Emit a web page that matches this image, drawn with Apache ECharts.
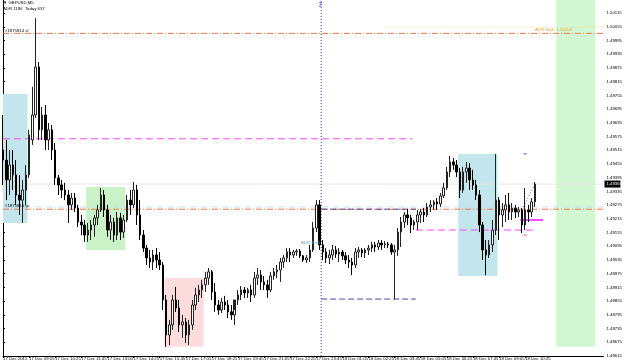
<!DOCTYPE html>
<html>
<head>
<meta charset="utf-8">
<script src="https://cdn.jsdelivr.net/npm/echarts@6/dist/echarts.min.js"></script>
<style>
  html, body { margin: 0; padding: 0; background: #fff; }
  #chart { width: 625px; height: 364px; }
</style>
</head>
<body>
<div id="chart"></div>
<script>
const opens = [
  1.49516, 1.49472, 1.49385, 1.49450, 1.49407, 1.49319, 1.49297, 1.49341, 1.49407, 1.49560,
  1.49669, 1.49879, 1.49604, 1.49669, 1.49560, 1.49604, 1.49516, 1.49394, 1.49363, 1.49341,
  1.49319, 1.49276, 1.49306, 1.49262, 1.49201, 1.49188, 1.49144, 1.49166, 1.49188, 1.49219,
  1.49254, 1.49319, 1.49254, 1.49166, 1.49201, 1.49144, 1.49219, 1.49157, 1.49210, 1.49297,
  1.49276, 1.49341, 1.49232, 1.49144, 1.49087, 1.49044, 1.49026, 1.49057, 1.49035, 1.49013,
  1.48860, 1.48707, 1.48751, 1.48860, 1.48825, 1.48751, 1.48764, 1.48707, 1.48751, 1.48838,
  1.48882, 1.48904, 1.48926, 1.48956, 1.48983, 1.48895, 1.48838, 1.48816, 1.48851, 1.48838,
  1.48808, 1.48795, 1.48860, 1.48882, 1.48904, 1.48891, 1.48904, 1.48882, 1.48956, 1.48969,
  1.48939, 1.48926, 1.48904, 1.48965, 1.48983, 1.48991, 1.49026, 1.49044, 1.49070, 1.49057,
  1.49070, 1.49074, 1.49053, 1.49035, 1.49044, 1.49079, 1.49175, 1.49276, 1.49101, 1.49070,
  1.49044, 1.49057, 1.49079, 1.49061, 1.49070, 1.49053, 1.49035, 1.49026, 1.49013, 1.49070,
  1.49079, 1.49066, 1.49079, 1.49087, 1.49101, 1.49092, 1.49109, 1.49101, 1.49105, 1.49101,
  1.49070, 1.49079, 1.49157, 1.49201, 1.49232, 1.49219, 1.49188, 1.49201, 1.49232, 1.49245,
  1.49232, 1.49267, 1.49276, 1.49289, 1.49280, 1.49315, 1.49350, 1.49420, 1.49464, 1.49450,
  1.49420, 1.49341, 1.49420, 1.49437, 1.49385, 1.49363, 1.49319, 1.49188, 1.49079, 1.49057,
  1.49101, 1.49166, 1.49297, 1.49232, 1.49254, 1.49276, 1.49245, 1.49262, 1.49245, 1.49254,
  1.49188, 1.49254, 1.49245, 1.49289
];
const highs = [
  1.49669, 1.49560, 1.49516, 1.49516, 1.49472, 1.49407, 1.49385, 1.49450, 1.49604, 1.49792,
  1.50093, 1.49901, 1.49704, 1.49713, 1.49634, 1.49625, 1.49547, 1.49407, 1.49385, 1.49372,
  1.49341, 1.49328, 1.49328, 1.49276, 1.49232, 1.49210, 1.49197, 1.49210, 1.49232, 1.49276,
  1.49350, 1.49341, 1.49276, 1.49232, 1.49219, 1.49245, 1.49241, 1.49232, 1.49319, 1.49341,
  1.49376, 1.49363, 1.49297, 1.49166, 1.49101, 1.49079, 1.49079, 1.49087, 1.49070, 1.49026,
  1.48882, 1.48773, 1.48882, 1.48917, 1.48860, 1.48795, 1.48781, 1.48773, 1.48860, 1.48913,
  1.48926, 1.48948, 1.48983, 1.49000, 1.48991, 1.48934, 1.48860, 1.48869, 1.48878, 1.48860,
  1.48838, 1.48816, 1.48904, 1.48921, 1.48917, 1.48913, 1.48926, 1.48983, 1.49000, 1.48991,
  1.48965, 1.48948, 1.48983, 1.49000, 1.49013, 1.49044, 1.49057, 1.49087, 1.49087, 1.49079,
  1.49083, 1.49083, 1.49057, 1.49057, 1.49101, 1.49201, 1.49297, 1.49297, 1.49122, 1.49087,
  1.49079, 1.49101, 1.49096, 1.49087, 1.49079, 1.49070, 1.49057, 1.49044, 1.49087, 1.49092,
  1.49087, 1.49087, 1.49101, 1.49114, 1.49114, 1.49122, 1.49122, 1.49118, 1.49114, 1.49109,
  1.49101, 1.49175, 1.49223, 1.49245, 1.49258, 1.49232, 1.49210, 1.49254, 1.49258, 1.49262,
  1.49284, 1.49297, 1.49297, 1.49306, 1.49328, 1.49372, 1.49442, 1.49490, 1.49481, 1.49472,
  1.49437, 1.49442, 1.49464, 1.49459, 1.49429, 1.49385, 1.49341, 1.49201, 1.49122, 1.49122,
  1.49210, 1.49499, 1.49310, 1.49284, 1.49319, 1.49328, 1.49284, 1.49276, 1.49267, 1.49262,
  1.49350, 1.49276, 1.49306, 1.49376
];
const lows = [
  1.49363, 1.49297, 1.49319, 1.49341, 1.49276, 1.49232, 1.49197, 1.49276, 1.49394, 1.49538,
  1.49656, 1.49560, 1.49560, 1.49516, 1.49516, 1.49472, 1.49363, 1.49319, 1.49306, 1.49297,
  1.49197, 1.49254, 1.49245, 1.49179, 1.49144, 1.49114, 1.49114, 1.49122, 1.49136, 1.49188,
  1.49245, 1.49223, 1.49136, 1.49122, 1.49114, 1.49122, 1.49122, 1.49131, 1.49201, 1.49232,
  1.49262, 1.49188, 1.49122, 1.49070, 1.49013, 1.49000, 1.48991, 1.49000, 1.48991, 1.48816,
  1.48655, 1.48663, 1.48729, 1.48808, 1.48720, 1.48694, 1.48672, 1.48663, 1.48729, 1.48816,
  1.48851, 1.48869, 1.48895, 1.48926, 1.48860, 1.48808, 1.48795, 1.48803, 1.48816, 1.48781,
  1.48773, 1.48751, 1.48838, 1.48860, 1.48869, 1.48869, 1.48851, 1.48869, 1.48926, 1.48904,
  1.48904, 1.48869, 1.48895, 1.48948, 1.48956, 1.48939, 1.49000, 1.49026, 1.49026, 1.49044,
  1.49053, 1.49044, 1.49026, 1.49022, 1.49026, 1.49070, 1.49157, 1.49079, 1.49035, 1.49022,
  1.49017, 1.49035, 1.49044, 1.49026, 1.49035, 1.49017, 1.49000, 1.48969, 1.49000, 1.49044,
  1.49048, 1.49044, 1.49057, 1.49070, 1.49070, 1.49079, 1.49079, 1.49087, 1.49087, 1.49057,
  1.48864, 1.49053, 1.49092, 1.49175, 1.49188, 1.49153, 1.49166, 1.49166, 1.49197, 1.49201,
  1.49223, 1.49245, 1.49254, 1.49254, 1.49267, 1.49306, 1.49341, 1.49398, 1.49429, 1.49398,
  1.49306, 1.49328, 1.49372, 1.49341, 1.49341, 1.49297, 1.49157, 1.49035, 1.48969, 1.49044,
  1.49070, 1.49144, 1.49122, 1.49179, 1.49201, 1.49210, 1.49210, 1.49219, 1.49223, 1.49153,
  1.49166, 1.49201, 1.49223, 1.49267
];
const closes = [
  1.49472, 1.49385, 1.49450, 1.49407, 1.49319, 1.49297, 1.49341, 1.49407, 1.49582, 1.49669,
  1.49879, 1.49604, 1.49669, 1.49560, 1.49604, 1.49516, 1.49394, 1.49363, 1.49341, 1.49319,
  1.49276, 1.49306, 1.49262, 1.49201, 1.49188, 1.49144, 1.49166, 1.49188, 1.49219, 1.49254,
  1.49319, 1.49254, 1.49166, 1.49201, 1.49144, 1.49219, 1.49157, 1.49210, 1.49297, 1.49276,
  1.49341, 1.49232, 1.49144, 1.49087, 1.49044, 1.49026, 1.49057, 1.49035, 1.49013, 1.48860,
  1.48707, 1.48751, 1.48860, 1.48825, 1.48751, 1.48764, 1.48707, 1.48751, 1.48838, 1.48882,
  1.48904, 1.48926, 1.48956, 1.48983, 1.48895, 1.48838, 1.48816, 1.48851, 1.48838, 1.48808,
  1.48795, 1.48860, 1.48882, 1.48904, 1.48891, 1.48904, 1.48882, 1.48956, 1.48969, 1.48939,
  1.48926, 1.48904, 1.48965, 1.48983, 1.48991, 1.49026, 1.49044, 1.49070, 1.49057, 1.49070,
  1.49074, 1.49053, 1.49035, 1.49044, 1.49079, 1.49175, 1.49276, 1.49101, 1.49070, 1.49044,
  1.49057, 1.49079, 1.49061, 1.49070, 1.49053, 1.49035, 1.49026, 1.49013, 1.49070, 1.49079,
  1.49066, 1.49079, 1.49087, 1.49101, 1.49092, 1.49109, 1.49101, 1.49105, 1.49101, 1.49070,
  1.49079, 1.49157, 1.49201, 1.49232, 1.49219, 1.49188, 1.49201, 1.49232, 1.49245, 1.49232,
  1.49267, 1.49276, 1.49289, 1.49280, 1.49315, 1.49350, 1.49420, 1.49464, 1.49450, 1.49420,
  1.49341, 1.49420, 1.49437, 1.49385, 1.49363, 1.49319, 1.49188, 1.49079, 1.49057, 1.49101,
  1.49166, 1.49297, 1.49232, 1.49254, 1.49276, 1.49245, 1.49262, 1.49245, 1.49254, 1.49188,
  1.49254, 1.49245, 1.49289, 1.49367
];

// price scale on the right
const yMin = 1.48615;
const yMax = 1.50172;
const yStep = 0.0006;

// session boxes
const zoneFrom = ['17 Dec 07:00', '17 Dec 12:00', '17 Dec 16:00', '18 Dec 07:00', '18 Dec 12:00'];
const zoneTo = ['17 Dec 09:00', '17 Dec 14:00', '17 Dec 18:00', '18 Dec 09:00', '18 Dec 14:00'];
const zoneTop = [1.49761, 1.49354, 1.48956, 1.49499, 1.50172];
const zoneBottom = [1.49197, 1.49079, 1.48655, 1.48965, 1.48655];

// horizontal levels
const stopLevel = 1.50026;
const takeLevel = 1.49257;
const entryLevel = 1.49267;
const adrHigh = 1.50053;
const dayHigh = 1.49257;
const dayLow = 1.48864;
const upperPivot = 1.49565;
const lowerPivot = 1.49166;
const lastMark = 1.49210;
const trendFrom = 1.49268;
const trendTo = 1.49366;
const smallHigh = 1.49499;
const smallLow = 1.49144;
const setLabelLevel = 1.49109;

const startTime = Date.UTC(2015, 11, 17, 7, 45);
const barMinutes = 10;
const slotCount = 185;
const lastBar = closes.length - 1;
const lastPrice = closes[lastBar];
const months = ['Jan', 'Feb', 'Mar', 'Apr', 'May', 'Jun', 'Jul', 'Aug', 'Sep', 'Oct', 'Nov', 'Dec'];

const pad = n => (n < 10 ? '0' : '') + n;
const categories = [];
for (let i = 0; i < slotCount; i++) {
  const d = new Date(startTime + i * barMinutes * 60000);
  categories.push(d.getUTCDate() + ' ' + months[d.getUTCMonth()] + ' ' + pad(d.getUTCHours()) + ':' + pad(d.getUTCMinutes()));
}
// '18 Dec 04:50' -> position on the bar axis
function slot(s) {
  const [day, , hm] = s.split(' ');
  const [h, m] = hm.split(':').map(Number);
  return (Date.UTC(2015, 11, +day, h, m) - startTime) / (barMinutes * 60000);
}

const font = 'Liberation Sans';
const tiny = 4.3;
const midnight = slot('18 Dec 00:00');

function segment(from, to, price, style) {
  return {
    type: 'line',
    xAxisIndex: 1,
    yAxisIndex: 0,
    symbol: 'none',
    silent: true,
    z: 4,
    lineStyle: style,
    data: [[from, price], [to, price]]
  };
}

const zoneColors = ['#c3e5ec', '#c9f2c6', '#fcdcdc', '#c3e5ec', '#d3f7d3'];
const dashDot = [6, 2, 1, 2];

const chart = echarts.init(document.getElementById('chart'));

const option = {
  animation: false,
  grid: { left: 0, right: 16, top: 0, bottom: 8 },
  xAxis: [
    {
      type: 'category',
      data: categories,
      boundaryGap: false,
      axisLine: { show: true, lineStyle: { color: '#000', width: 1 } },
      axisTick: {
        show: true,
        length: 2,
        interval: (i) => i % 8 === 0 && i <= lastBar,
        lineStyle: { color: '#000' }
      },
      axisLabel: {
        interval: (i) => i % 8 === 0 && i <= lastBar,
        align: 'left',
        margin: 1,
        fontSize: tiny,
        fontFamily: font,
        color: '#000',
        formatter: (v, i) => (i === 0 ? '17 Dec 2015' : v)
      },
      splitLine: { show: false }
    },
    { type: 'value', min: 0, max: slotCount - 1, show: false }
  ],
  yAxis: {
    type: 'value',
    position: 'right',
    min: yMin,
    max: yMax,
    interval: yStep,
    axisLine: { show: true, lineStyle: { color: '#000' } },
    axisTick: { show: true, length: 2, lineStyle: { color: '#000' } },
    axisLabel: {
      showMaxLabel: false,
      margin: 3,
      fontSize: tiny,
      fontFamily: font,
      color: '#000',
      formatter: v => v.toFixed(5)
    },
    splitLine: { show: false }
  },
  series: [
    {
      type: 'line',
      xAxisIndex: 1,
      symbol: 'none',
      silent: true,
      z: 1,
      data: [],
      markArea: {
        silent: true,
        data: zoneFrom.map((f, k) => [
          { xAxis: Math.max(0, slot(f)), yAxis: zoneTop[k], itemStyle: { color: zoneColors[k] } },
          { xAxis: slot(zoneTo[k]), yAxis: zoneBottom[k] }
        ])
      }
    },
    segment(0, slotCount - 1, lastPrice, { color: '#e6e6e6', width: 1 }),
    segment(0, slotCount - 1, entryLevel, { color: '#c8dcef', width: 1, type: dashDot }),
    segment(0, slotCount - 1, stopLevel, { color: '#f0784a', width: 1, type: dashDot }),
    segment(0, slotCount - 1, takeLevel, { color: '#f0784a', width: 1, type: dashDot }),
    segment(slot('18 Dec 03:20'), slotCount - 1, adrHigh, { color: '#f5d27a', width: 1, type: [1, 2] }),
    segment(0, slot('18 Dec 04:40'), upperPivot, { color: '#ff44ff', width: 1, type: [7, 4] }),
    segment(slot('18 Dec 04:50'), slot('18 Dec 10:50'), lowerPivot, { color: '#ff44ff', width: 1, type: [7, 4] }),
    segment(slot('18 Dec 10:10'), slot('18 Dec 11:20'), lastMark, { color: '#ff44ff', width: 2 }),
    segment(midnight, slot('18 Dec 04:50'), dayHigh, { color: '#4848a8', width: 1, type: [6, 3] }),
    segment(midnight, slot('18 Dec 04:50'), dayLow, { color: '#4848a8', width: 1, type: [6, 3] }),
    segment(slot('18 Dec 10:20'), slot('18 Dec 10:30'), smallHigh, { color: '#5050e0', width: 1 }),
    segment(slot('18 Dec 10:20'), slot('18 Dec 10:30'), smallLow, { color: '#ff5030', width: 1 }),
    {
      type: 'line', xAxisIndex: 1, symbol: 'none', silent: true, z: 4,
      lineStyle: { color: '#5050e0', width: 1, type: [1, 2] },
      data: [[slot('18 Dec 10:20'), trendFrom], [slot('18 Dec 10:55'), trendTo]]
    },
    {
      type: 'line', xAxisIndex: 1, symbol: 'none', silent: true, z: 4,
      lineStyle: { color: '#2a2aff', width: 1, type: [1, 2] },
      data: [[midnight, yMin], [midnight, yMax]]
    },
    {
      type: 'candlestick',
      xAxisIndex: 0,
      yAxisIndex: 0,
      z: 5,
      barWidth: 2,
      itemStyle: {
        color: '#ffffff',
        color0: '#000000',
        borderColor: '#222222',
        borderColor0: '#000000',
        borderWidth: 1
      },
      data: closes.map((c, i) => [opens[i], c, lows[i], highs[i]])
    }
  ]
};

chart.setOption(option);

// text objects placed through the chart's own scales
const px = (x, y) => chart.convertToPixel({ xAxisIndex: 1, yAxisIndex: 0 }, [x, y]);
const txt = (p, text, color, extra) => ({
  type: 'text', x: p[0], y: p[1], silent: true, z: 20,
  style: Object.assign({ text, fontSize: tiny, fontFamily: font, fill: color }, extra || {})
});
const pStop = px(0, stopLevel);
const pTake = px(0, takeLevel);
const pAdr = px(slot('18 Dec 10:55'), adrHigh);
const pFri = px(midnight, yMax);
const pSet = px(midnight, setLabelLevel);
const pLast = px(slotCount - 1, lastPrice);

chart.setOption({
  graphic: [
    { type: 'text', left: 3, top: 1, style: { text: '▼ GBPUSD,M5', fontSize: tiny, fontFamily: font, fill: '#000' } },
    { type: 'text', left: 3, top: 7, style: { text: 'ADR 1190  Today 637', fontSize: tiny, fontFamily: font, fill: '#000' } },
    txt([pStop[0] + 2, pStop[1] - 1], '#1875814 sl', '#000', { verticalAlign: 'bottom' }),
    txt([pTake[0] + 2, pTake[1] - 1], '#1875816 tp', '#000', { verticalAlign: 'bottom' }),
    txt([pAdr[0], pAdr[1] + 1], 'ADR High: 1.50053', '#f0a030', { verticalAlign: 'top' }),
    txt([pSet[0] - 1, pSet[1]], 'ADR Set1', '#60a8c8', { align: 'right', verticalAlign: 'middle' }),
    {
      type: 'text', x: pFri[0] + 1, y: pFri[1] + 2, rotation: -Math.PI / 2, silent: true, z: 20,
      style: { text: 'Fri', fontSize: tiny, fontFamily: font, fill: '#2a2aff' }
    },
    {
      type: 'group', x: pLast[0] + 1, y: pLast[1] - 3.5, z: 20, silent: true,
      children: [
        { type: 'rect', shape: { x: 0, y: 0, width: 16, height: 7 }, style: { fill: '#000' } },
        { type: 'text', x: 2, y: 3.5, style: { text: lastPrice.toFixed(5), fontSize: tiny, fontFamily: font, fill: '#fff', verticalAlign: 'middle' } }
      ]
    }
  ]
});
</script>
</body>
</html>
